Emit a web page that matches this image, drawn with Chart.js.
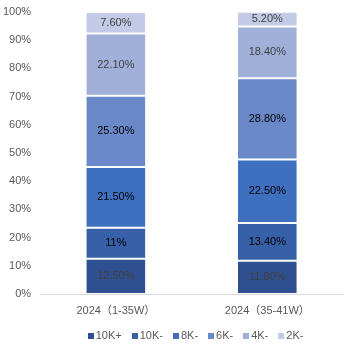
<!DOCTYPE html>
<html>
<head>
<meta charset="utf-8">
<script src="https://cdn.jsdelivr.net/npm/chart.js@4"></script>
<style>
  body { margin: 0; background: #fff; }
  #wrap { width: 358px; height: 360px; }
</style>
</head>
<body>
<div id="wrap"><canvas id="chart"></canvas></div>
<script>
var categories = ['2024（1-35W）', '2024（35-41W）'];
var seriesNames = ['10K+', '10K-', '8K-', '6K-', '4K-', '2K-'];
var s10kPlus = [12.5, 11.8];
var s10kMinus = [11, 13.4];
var s8k = [21.5, 22.5];
var s6k = [25.3, 28.8];
var s4k = [22.1, 18.4];
var s2k = [7.6, 5.2];
var labelText = [
  ['12.50%', '11.80%'],
  ['11%', '13.40%'],
  ['21.50%', '22.50%'],
  ['25.30%', '28.80%'],
  ['22.10%', '18.40%'],
  ['7.60%', '5.20%']
];
var yTicks = [0, 10, 20, 30, 40, 50, 60, 70, 80, 90, 100];

var colors = ['#2f5090', '#3660a8', '#3f6fbf', '#6b89c9', '#a0b0d9', '#c2cae6'];
var labelColors = ['#404040', '#000000', '#000000', '#000000', '#404040', '#404040'];
var allData = [s10kPlus, s10kMinus, s8k, s6k, s4k, s2k];
var fontFam = '"Liberation Sans", Arial, "Noto Sans CJK SC", sans-serif';

var datasets = [];
for (var i = 0; i < seriesNames.length; i++) {
  datasets.push({
    label: seriesNames[i],
    data: allData[i],
    backgroundColor: colors[i],
    borderColor: 'rgba(255,255,255,0.45)',
    borderWidth: 1,
    borderSkipped: false,
    categoryPercentage: 1,
    barPercentage: 0.4
  });
}

// values in the middle of each segment
var segmentLabels = {
  id: 'segmentLabels',
  afterDatasetsDraw: function (chart) {
    var ctx = chart.ctx;
    ctx.save();
    ctx.font = '11px ' + fontFam;
    ctx.textAlign = 'center';
    ctx.textBaseline = 'middle';
    chart.data.datasets.forEach(function (ds, di) {
      var meta = chart.getDatasetMeta(di);
      meta.data.forEach(function (bar, j) {
        ctx.fillStyle = labelColors[di];
        ctx.fillText(labelText[di][j], bar.x, (bar.y + bar.base) / 2);
      });
    });
    ctx.restore();
  }
};

// small legend below the axis
var bottomLegend = {
  id: 'bottomLegend',
  afterDraw: function (chart) {
    var ctx = chart.ctx;
    var box = 6, gapText = 2, gapItem = 10;
    ctx.save();
    ctx.font = '11px ' + fontFam;
    ctx.textBaseline = 'middle';
    var widths = chart.data.datasets.map(function (ds) {
      return box + gapText + ctx.measureText(ds.label).width;
    });
    var total = widths.reduce(function (a, b) { return a + b; }, 0) + gapItem * (widths.length - 1);
    var x = (chart.chartArea.left + chart.chartArea.right) / 2 + 4 - total / 2;
    var y = chart.chartArea.bottom + 42;
    chart.data.datasets.forEach(function (ds, di) {
      ctx.fillStyle = ds.backgroundColor;
      ctx.fillRect(Math.round(x), Math.round(y - box / 2), box, box);
      ctx.fillStyle = '#595959';
      ctx.fillText(ds.label, x + box + gapText, y);
      x += widths[di] + gapItem;
    });
    ctx.restore();
  }
};

new Chart(document.getElementById('chart'), {
  type: 'bar',
  data: { labels: categories, datasets: datasets },
  plugins: [segmentLabels, bottomLegend],
  options: {
    responsive: true,
    maintainAspectRatio: false,
    animation: false,
    layout: { padding: { top: 0, right: 15, bottom: 42, left: -6 } },
    plugins: {
      tooltip: { enabled: false },
      legend: { display: false }
    },
    scales: {
      x: {
        stacked: true,
        grid: { display: false, drawTicks: false },
        border: { color: '#d9d9d9' },
        ticks: {
          color: '#595959',
          padding: 10,
          font: { family: fontFam, size: 11 }
        },
        afterFit: function (axis) { axis.height = 24; }
      },
      y: {
        stacked: true,
        min: 0,
        max: 100,
        afterBuildTicks: function (axis) {
          axis.ticks = yTicks.map(function (v) { return { value: v }; });
        },
        afterFit: function (axis) {
          axis.paddingTop = 12;
          axis.paddingBottom = 0;
        },
        grid: { display: false, drawTicks: false },
        border: { display: false },
        ticks: {
          color: '#595959',
          padding: 9,
          font: { family: fontFam, size: 11 },
          callback: function (v) { return v + '%'; }
        }
      }
    }
  }
});
</script>
</body>
</html>
